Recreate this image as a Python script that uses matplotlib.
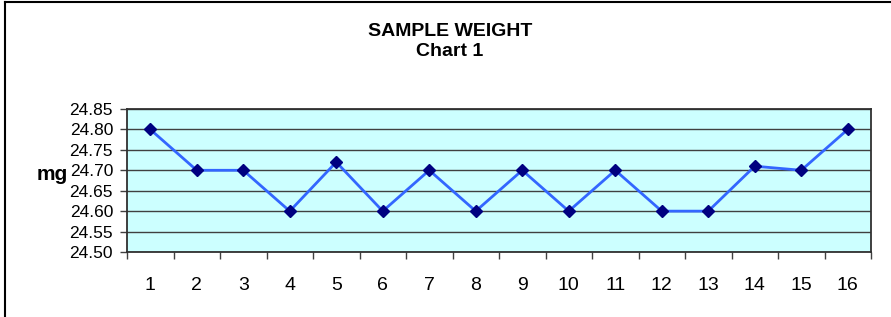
import matplotlib.pyplot as plt
from matplotlib.lines import Line2D
from matplotlib.ticker import MultipleLocator

plt.rcParams['font.family'] = ['Liberation Sans', 'DejaVu Sans']

samples = list(range(1, 17))
weights = [24.80, 24.70, 24.70, 24.60, 24.72, 24.60, 24.70, 24.60,
           24.70, 24.60, 24.70, 24.60, 24.60, 24.71, 24.70, 24.80]
y_ticks = [24.50, 24.55, 24.60, 24.65, 24.70, 24.75, 24.80, 24.85]

fig = plt.figure(figsize=(8.91, 3.17), dpi=100)
ax = fig.add_axes([127 / 891, 65 / 317, 744 / 891, 143 / 317])
ax.set_facecolor('#CCFFFF')

ax.plot(samples, weights, color='#3366FF', lw=2, zorder=3,
        marker='D', markersize=6, markerfacecolor='#000080',
        markeredgecolor='#000080')

ax.set_xlim(0.5, 16.5)
ax.set_ylim(24.50, 24.85)
ax.set_yticks(y_ticks)
ax.set_yticklabels([f"{v:.2f}" for v in y_ticks])
ax.yaxis.grid(True, color='#404040', lw=1)
ax.set_axisbelow(True)

ax.set_xticks(samples)
ax.set_xticklabels([str(s) for s in samples])
ax.xaxis.set_minor_locator(MultipleLocator(1, offset=0.5))
ax.tick_params(axis='x', which='major', length=0, pad=18, labelsize=14)
ax.tick_params(axis='x', which='minor', length=5, width=1, color='#404040')
ax.tick_params(axis='y', length=5, width=1, pad=5, labelsize=12.5,
               color='#404040')

for side in ['top', 'right', 'left', 'bottom']:
    ax.spines[side].set_color('#303030')
    ax.spines[side].set_linewidth(1.3)

fig.text(52 / 891, 1 - 175 / 317, 'mg', ha='center', va='center',
         fontsize=15, fontweight='bold')

fig.text(450 / 891, 1 - 31 / 317, 'SAMPLE WEIGHT', ha='center', va='center',
         fontsize=14, fontweight='bold')
fig.text(450 / 891, 1 - 51 / 317, 'Chart 1', ha='center', va='center',
         fontsize=14, fontweight='bold')

# outer chart border (top and left edges visible)
fig.add_artist(Line2D([5 / 891, 1], [1 - 2 / 317, 1 - 2 / 317],
                      color='black', lw=1.5, transform=fig.transFigure))
fig.add_artist(Line2D([5 / 891, 5 / 891], [0, 1 - 2 / 317],
                      color='black', lw=1.5, transform=fig.transFigure))

fig.savefig('out.png', dpi=100)
